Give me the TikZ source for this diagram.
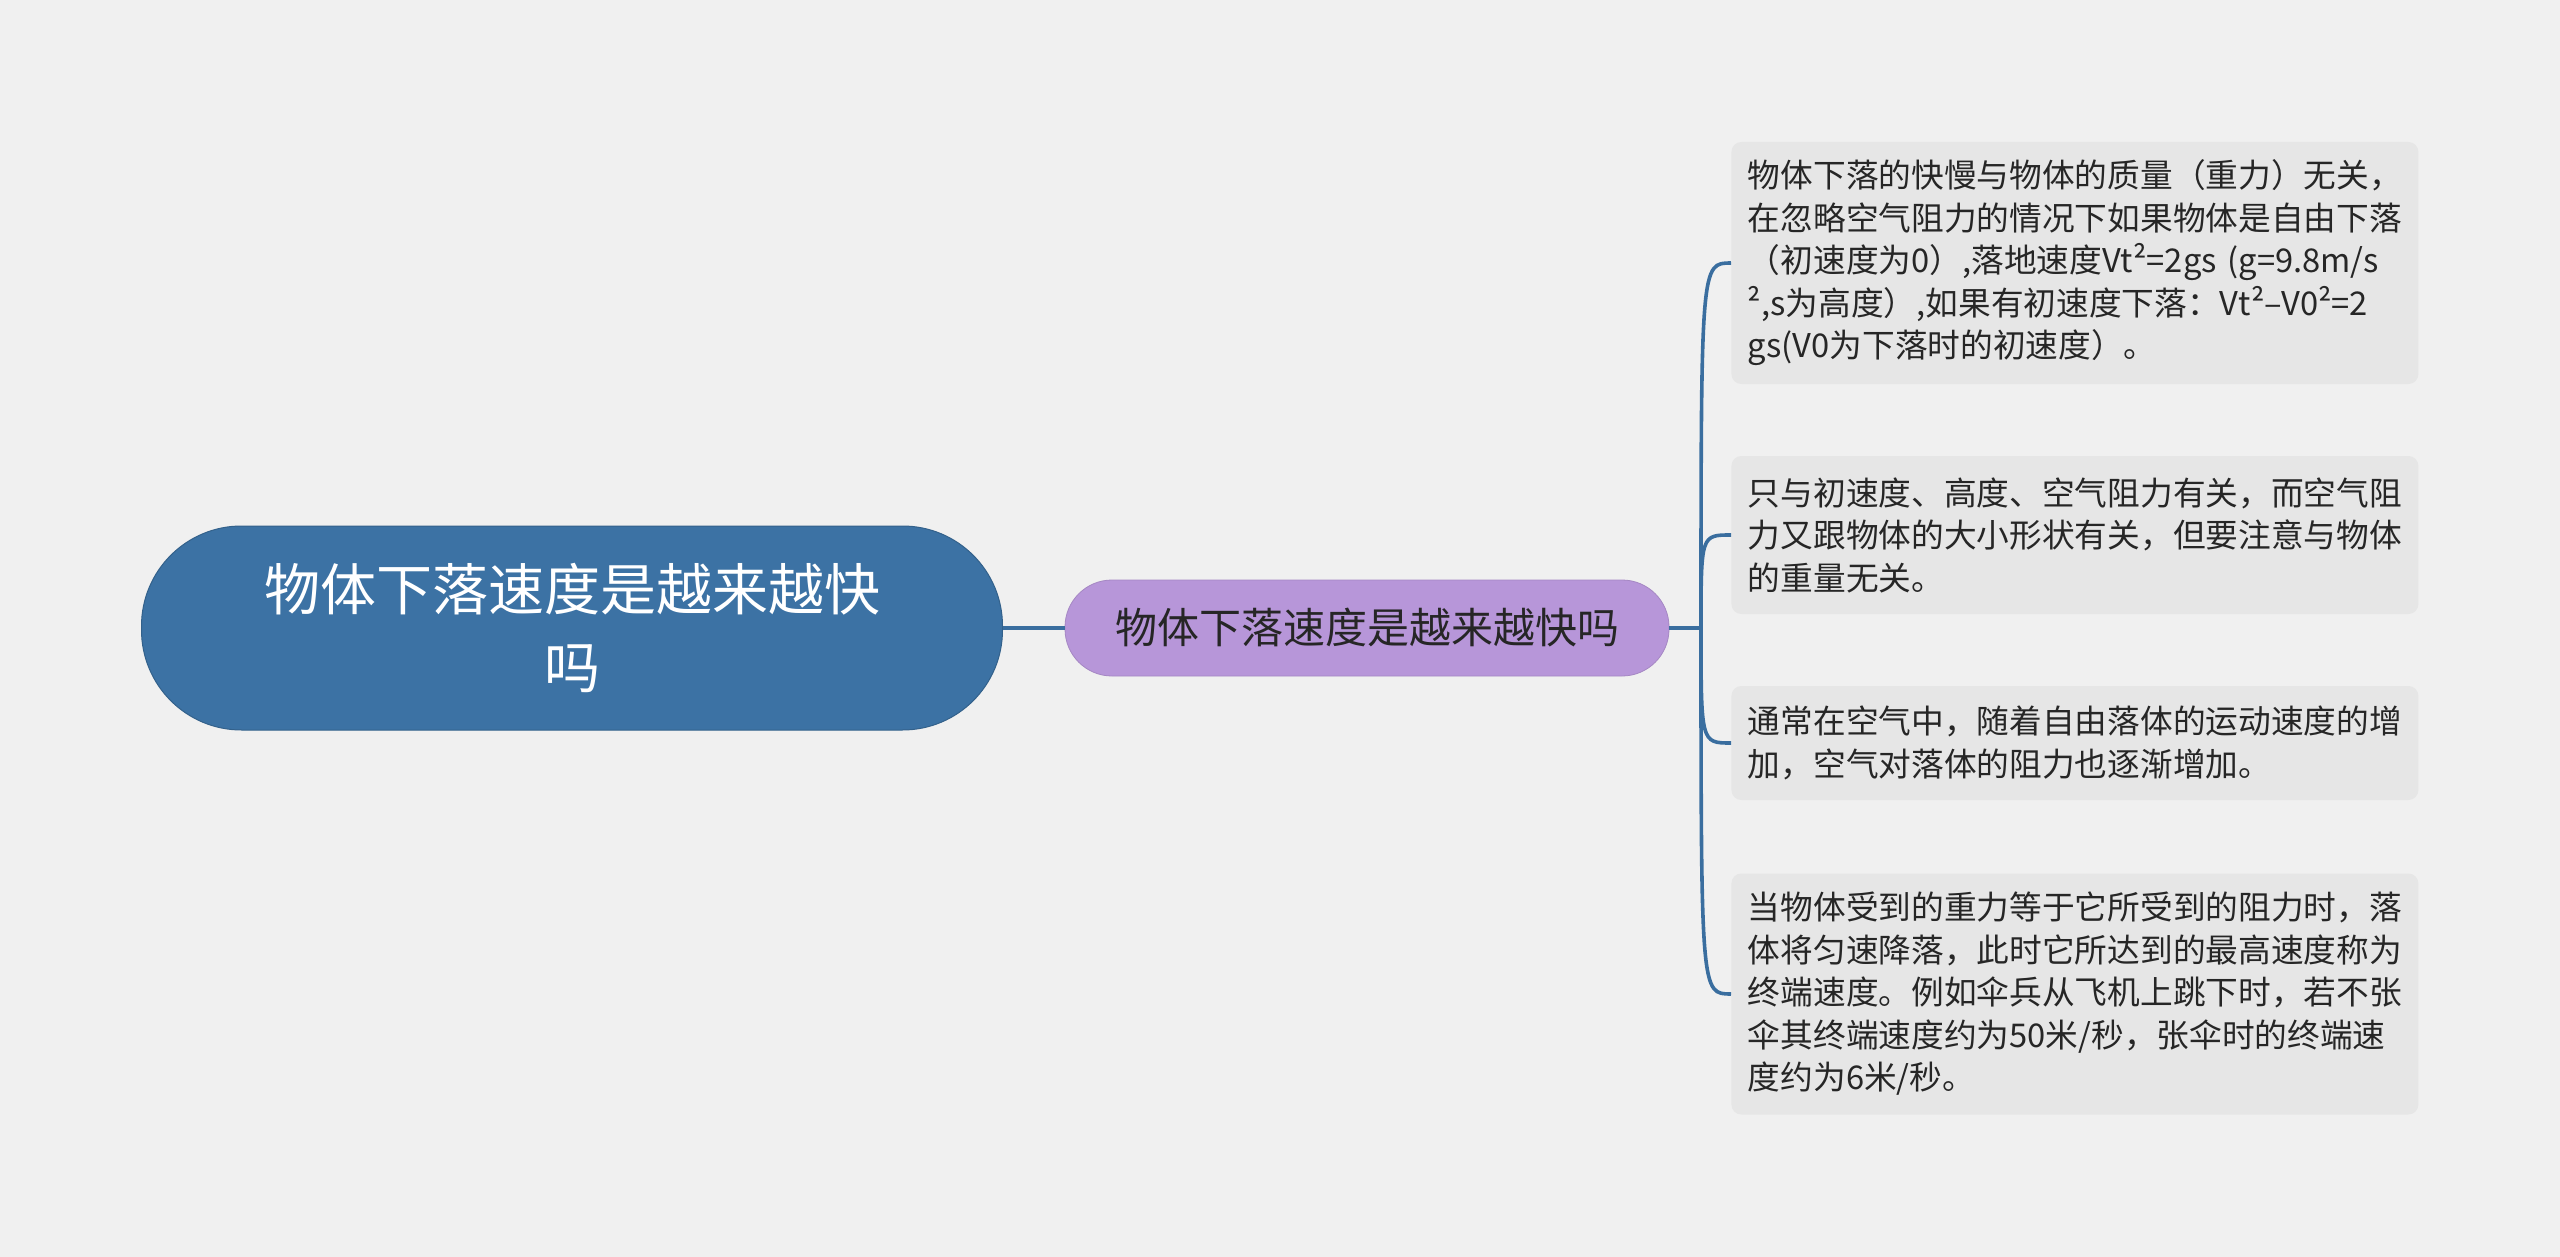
\documentclass[tikz,border=0pt]{standalone}
\usepackage{fontspec}
\setmainfont{Noto Sans CJK SC}
\usepackage{tikz}

\definecolor{bgcol}{HTML}{F0F0F0}
\definecolor{rootblue}{HTML}{3C72A4}
\definecolor{linkblue}{HTML}{3A6E9F}
\definecolor{subpurple}{HTML}{B796D9}
\definecolor{boxgray}{HTML}{E6E6E6}
\definecolor{textdark}{HTML}{262626}

\begin{document}
\begin{tikzpicture}[x=0.5pt,y=-0.5pt,
  rootnode/.style={fill=rootblue,draw=rootblue!85!black,line width=0.5pt,
    rounded corners=50pt,minimum width=430.5pt,minimum height=102pt,
    align=center,text=white,font=\fontsize{28pt}{39pt}\selectfont},
  subnode/.style={fill=subpurple,draw=subpurple!90!black,line width=0.4pt,
    rounded corners=23.5pt,minimum width=302pt,minimum height=48pt,
    text=textdark,font=\fontsize{21pt}{26pt}\selectfont},
  leafbox/.style={fill=boxgray,rounded corners=5pt,anchor=west,
    text width=327pt,inner xsep=8pt,inner ysep=0pt,minimum width=343.5pt,
    align=left,text=textdark,font=\fontsize{16.35pt}{21.25pt}\selectfont},
  link/.style={draw=linkblue,line width=1.8pt}]
  \fill[bgcol] (0,0) rectangle (2560,1257);

  \node[rootnode] (root) at (572,628) {物体下落速度是越来越快\\吗};
  \node[subnode] (sub) at (1367,628) {物体下落速度是越来越快吗};
  \coordinate (hub) at (1701,628);

  \node[leafbox,minimum height=121pt] (b1) at (1731,263)
    {物体下落的快慢与物体的质量（重力）无关，\\
     在忽略空气阻力的情况下如果物体是自由下落\\
     （初速度为0）,落地速度Vt²=2gs (g=9.8m/s\\
     ²,s为高度）,如果有初速度下落：Vt²–V0²=2\\
     gs(V0为下落时的初速度）。};
  \node[leafbox,minimum height=79pt] (b2) at (1731,535)
    {只与初速度、高度、空气阻力有关，而空气阻\\
     力又跟物体的大小形状有关，但要注意与物体\\
     的重量无关。};
  \node[leafbox,minimum height=57pt] (b3) at (1731,743)
    {通常在空气中，随着自由落体的运动速度的增\\
     加，空气对落体的阻力也逐渐增加。};
  \node[leafbox,minimum height=120.5pt] (b4) at (1731,994)
    {当物体受到的重力等于它所受到的阻力时，落\\
     体将匀速降落，此时它所达到的最高速度称为\\
     终端速度。例如伞兵从飞机上跳下时，若不张\\
     伞其终端速度约为50米/秒，张伞时的终端速\\
     度约为6米/秒。};

  \draw[link] (root.east) -- (sub.west);
  \draw[link] (sub.east) -- (hub);
  \foreach \b in {b1,b2,b3,b4}
    \draw[link] (hub) .. controls (hub |- \b.west) .. (\b.west);
\end{tikzpicture}
\end{document}
